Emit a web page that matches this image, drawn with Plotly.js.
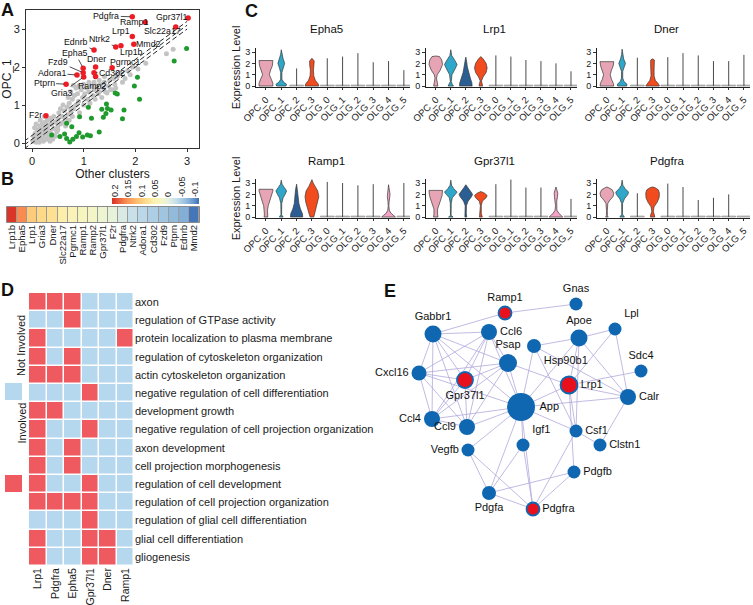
<!DOCTYPE html>
<html><head><meta charset="utf-8">
<script src="https://cdn.plot.ly/plotly-3.0.1.min.js"></script>
<style>html,body{margin:0;padding:0;background:#fff}#chart{width:753px;height:605px}</style>
</head><body><div id="chart"></div>
<script>
// ================= DATA =================
// Panel A : OPC_1 vs other clusters (average expression)
const aGrayX = [0.02,0.05,0.08,0.1,0.12,0.15,0.06,0.18,0.2,0.22,0.25,0.1,0.28,0.3,0.32,0.35,0.15,0.38,0.4,0.42,0.45,0.2,0.25,0.3,0.48,0.5,0.05,0.12,0.18,0.22,0.28,0.35,0.04,0.14,0.33,0.36,0.42,0.26,0.3,0.4,0.45,0.08,0.16,0.24,0.5,0.55,0.58,0.52,0.6,0.62,0.65,0.68,0.7,0.72,0.75,0.78,0.8,0.82,0.85,0.88,0.9,0.92,0.95,0.98,1.0,1.02,1.05,1.08,1.1,1.12,1.15,1.18,1.2,1.22,0.6,0.55,0.7,0.75,0.85,0.8,0.9,1.0,0.65,0.72,0.78,0.5,1.25,1.28,1.3,1.32,1.35,1.38,1.4,1.42,1.45,1.48,1.5,1.52,1.55,1.58,1.6,1.62,1.65,1.7,1.75,1.8,1.85,1.9,1.95,1.3,1.4,1.2,1.1,2.73,2.6,2.2,2.05];
const aGrayY = [0.05,0.1,0.02,0.15,0.08,0.2,0.25,0.12,0.3,0.18,0.35,0.35,0.25,0.4,0.15,0.3,0.45,0.5,0.22,0.38,0.55,0.5,0.55,0.6,0.3,0.45,0.4,0.28,0.38,0.05,0.1,0.05,0.15,0.02,0.48,0.65,0.7,0.42,0.28,0.1,0.18,0.5,0.6,0.7,0.62,0.5,0.7,0.8,0.55,0.85,0.65,0.95,0.75,1.05,0.85,1.15,0.9,1.25,1.0,1.3,1.1,0.8,1.4,1.2,1.0,1.3,1.45,1.15,1.35,1.05,1.5,1.25,1.4,1.15,1.0,0.9,1.2,1.35,1.45,1.52,1.5,1.55,0.45,0.6,0.7,0.35,1.5,1.3,1.35,1.55,1.2,1.45,1.6,1.35,1.32,1.5,1.65,1.4,1.4,1.7,1.55,1.45,1.75,1.85,1.6,1.7,1.9,1.8,2.0,1.65,1.75,1.6,1.6,2.47,2.35,2.1,1.95];
const aGreenX = [2.99,2.75,2.04,1.98,2.08,1.78,1.75,1.61,1.65,1.44,1.46,1.53,1.35,1.43,1.38,1.09,0.92,1.15,1.3,1.07,1.13,0.91,0.86,0.79,0.73,0.67,0.63,0.77,0.67,0.54,0.38,0.98];
const aGreenY = [2.49,2.16,1.73,1.5,1.15,0.87,0.64,1.32,1.29,1.03,0.91,0.87,0.89,0.78,0.68,0.94,0.69,0.65,0.29,0.21,0.19,0.27,0.17,0.1,0.03,0.12,0.24,0.43,0.52,0.17,0.21,0.16];
const aRedGenes = ['Pdgfra','Gpr37l1','Ramp1','Slc22a17','Lrp1','Mmd2','Ntrk2','Lrp1b','Ednrb','Pgrmc1','Dner','Epha5','Fzd9','Adora1','Cd302','Ramp2','Gria3','Ptprn','F2r'];
const aRedX = [1.94,3.02,2.19,2.78,1.94,1.97,1.62,1.72,1.2,1.55,1.23,0.99,0.99,0.87,1.2,1.23,1.0,0.66,0.27];
const aRedY = [3.32,3.29,3.18,3.05,2.8,2.6,2.53,2.56,2.45,1.98,2.0,1.97,1.85,1.79,1.85,1.75,1.74,1.55,0.72];
const aTicks = [0,1,2,3];
const aRefOffsets = [0, 0.1, 0.2];   // dashed diagonal guide lines y = x + c
const aRefX = [-0.15, 3.0];

// Panel B : correlation heat strip
const bGenes = ['Lrp1b','Epha5','Lrp1','Gria3','Dner','Slc22a17','Pgrmc1','Ramp1','Ramp2','Gpr37l1','F2r','Pdgfra','Ntrk2','Adora1','Cd302','Fzd9','Ptprn','Ednrb','Mmd2'];
const bValues = [0.21,0.16,0.105,0.09,0.08,0.06,0.045,0.035,0.025,0.015,0.005,-0.01,-0.025,-0.035,-0.045,-0.055,-0.065,-0.075,-0.11];
const bBarTicks = [0.2,0.15,0.1,0.05,0,-0.05,-0.1];
const bBarStops = [-0.115,-0.1,-0.05,0,0.05,0.1,0.15,0.2,0.211];

// Panel C : violin outlines, [expression level, half width];
// a single number = cells almost all at 0 with a whisker up to that value
const cClusters = ['OPC_0','OPC_1','OPC_2','OPC_3','OLG_0','OLG_1','OLG_2','OLG_3','OLG_4','OLG_5'];
const cGenes = ['Epha5','Lrp1','Dner','Ramp1','Gpr37l1','Pdgfra'];
const violinEpha5 = [
  [[0,0.45],[0.25,0.45],[0.6,0.35],[1.0,0.22],[1.4,0.3],[1.8,0.42],[2.25,0.45]],
  [[0,0.3],[0.15,0.35],[0.35,0.15],[0.6,0.04],[1.2,0.04],[1.6,0.12],[2.0,0.22],[2.4,0.12],[2.8,0.04],[3.2,0]],
  1.55,
  [[0,0.45],[0.2,0.4],[0.5,0.22],[0.9,0.12],[1.4,0.1],[1.9,0.15],[2.2,0.15],[2.45,0]],
  2.45, 2.6, 2.9, 2.1, 2.2, 1.4];
const violinLrp1 = [
  [[0,0.14],[0.3,0.1],[0.7,0.05],[1.0,0.1],[1.4,0.3],[1.9,0.45],[2.3,0.4],[2.6,0.25],[2.65,0]],
  [[0,0.18],[0.15,0.1],[0.4,0.03],[1.0,0.08],[1.5,0.28],[1.9,0.42],[2.3,0.25],[2.7,0.06],[3.2,0]],
  [[0,0.42],[0.3,0.4],[0.7,0.3],[1.2,0.18],[1.7,0.1],[2.2,0.05],[2.55,0]],
  [[0,0.12],[0.2,0.1],[0.45,0.04],[0.8,0.15],[1.2,0.35],[1.6,0.42],[2.0,0.35],[2.4,0.15],[2.6,0]],
  2.7, 2.6, 2.3, 2.2, 2.0, 1.3];
const violinDner = [
  [[0,0.45],[0.25,0.42],[0.6,0.3],[1.0,0.22],[1.4,0.3],[1.8,0.42],[2.15,0.45]],
  [[0,0.3],[0.15,0.32],[0.4,0.12],[0.7,0.04],[1.3,0.04],[1.7,0.14],[2.0,0.22],[2.4,0.1],[2.8,0.03],[3.25,0]],
  2.5,
  [[0,0.45],[0.2,0.38],[0.5,0.18],[0.9,0.1],[1.5,0.1],[2.0,0.13],[2.3,0.12],[2.4,0]],
  2.55, 2.9, 2.7, 2.2, 2.2, 2.75];
const violinRamp1 = [
  [[0,0.12],[0.25,0.1],[0.6,0.1],[1.0,0.15],[1.4,0.25],[1.9,0.38],[2.3,0.45],[2.45,0.45]],
  [[0,0.12],[0.08,0.1],[0.2,0.02],[1.2,0.03],[1.7,0.12],[2.0,0.25],[2.3,0.35],[2.6,0.2],[2.9,0.05],[3.25,0]],
  [[0,0.4],[0.3,0.38],[0.7,0.25],[1.2,0.15],[1.8,0.1],[2.4,0.07],[2.9,0]],
  [[0,0.12],[0.3,0.18],[0.8,0.3],[1.3,0.4],[1.8,0.45],[2.3,0.38],[2.7,0.2],[3.0,0.08],[3.3,0]],
  3.1, 3.0, 2.8, 2.9,
  [[0,0.45],[0.12,0.35],[0.35,0.15],[0.6,0.05],[1.0,0.02],[1.4,0.04],[1.8,0.08],[2.0,0.1],[2.3,0.06],[2.6,0.02],[2.85,0]],
  3.0];
const violinGpr37l1 = [
  [[0,0.15],[0.25,0.12],[0.7,0.12],[1.0,0.18],[1.4,0.3],[1.9,0.42],[2.3,0.45],[2.35,0.45]],
  [[0,0.15],[0.05,0.1],[0.15,0.02],[1.2,0.03],[1.7,0.1],[2.0,0.3],[2.2,0.42],[2.5,0.2],[2.8,0.05],[3.25,0]],
  [[0,0.06],[0.3,0.03],[1.0,0.04],[1.4,0.15],[1.8,0.38],[2.0,0.45],[2.3,0.3],[2.6,0.12],[2.85,0]],
  [[0,0.1],[0.15,0.08],[0.3,0.03],[1.0,0.03],[1.4,0.1],[1.7,0.35],[1.9,0.42],[2.1,0.25],[2.25,0]],
  2.9, 3.3, 2.6, 2.6,
  [[0,0.45],[0.12,0.35],[0.35,0.18],[0.6,0.06],[1.0,0.03],[1.4,0.05],[1.8,0.1],[2.1,0.12],[2.4,0.06],[2.65,0]],
  1.6];
const violinPdgfra = [
  [[0,0.08],[0.15,0.03],[0.6,0.03],[1.2,0.06],[1.5,0.2],[1.8,0.4],[2.1,0.45],[2.4,0.35],[2.6,0.1],[2.65,0]],
  [[0,0.15],[0.1,0.1],[0.25,0.02],[1.2,0.03],[1.6,0.15],[2.0,0.38],[2.2,0.42],[2.5,0.2],[2.8,0.05],[3.25,0]],
  2.1,
  [[0,0.15],[0.2,0.12],[0.5,0.05],[0.9,0.1],[1.3,0.3],[1.7,0.43],[2.1,0.45],[2.4,0.38],[2.6,0.15],[2.65,0]],
  2.95, 2.65, 1.5, 1.7, 2.0, 0];
const cProfiles = [violinEpha5, violinLrp1, violinDner, violinRamp1, violinGpr37l1, violinPdgfra];
const cYTicks = [0,1,2,3];

// Panel D : GO term membership (1 = involved)
const dGenes = ['Lrp1','Pdgfra','Epha5','Gpr37l1','Dner','Ramp1'];
const dTerms = ['axon','regulation of GTPase activity','protein localization to plasma membrane','regulation of cytoskeleton organization','actin cytoskeleton organization','negative regulation of cell differentiation','development growth','negative regulation of cell projection organization','axon development','cell projection morphogenesis','regulation of cell development','regulation of cell projection organization','regulation of glial cell differentiation','glial cell differentiation','gliogenesis'];
const dMatrix = [
  [1,1,1,0,0,0],
  [0,0,1,0,0,0],
  [1,0,0,0,0,1],
  [1,0,1,0,0,0],
  [1,1,1,0,0,0],
  [0,0,0,1,0,0],
  [1,1,0,0,0,0],
  [1,0,0,1,0,0],
  [1,0,1,0,0,0],
  [1,0,1,0,0,0],
  [1,0,0,1,0,0],
  [1,1,1,1,0,0],
  [0,0,0,1,0,0],
  [1,0,0,1,1,0],
  [1,0,0,1,1,0]];

// Panel E : interaction network (layout coordinates)
const eNodes = ['Ramp1','Gnas','Gabbr1','Ccl6','Apoe','Lpl','Hsp90b1','Psap','Sdc4','Cxcl16','Gpr37l1','Lrp1','Calr','App','Ccl4','Ccl9','Csf1','Igf1','Clstn1','Vegfb','Pdgfb','Pdgfa','Pdgfra'];
const eNodeX = [505,576,433,489,579,615,534,508,641,419,465,569,628,521,432,467,576,523,600,468,574,489,533];
const eNodeY = [313,304,334,332,338,329,346,363,371,373,380,385,397,407,419,427,431,445,445,450,472,493,509];
const eHighlighted = ['Ramp1','Gpr37l1','Lrp1','Pdgfra'];
const eEdges = [
  ['Ramp1','Gabbr1'],['Ramp1','Gnas'],['Gabbr1','Ccl6'],['Gabbr1','Cxcl16'],['Gabbr1','Gpr37l1'],['Gabbr1','Ccl4'],['Gabbr1','Ccl9'],['Gabbr1','Psap'],['Gabbr1','App'],
  ['Ccl6','Cxcl16'],['Ccl6','Gpr37l1'],['Ccl6','Ccl4'],['Ccl6','Ccl9'],['Ccl6','App'],['Ccl6','Psap'],
  ['Cxcl16','Gpr37l1'],['Cxcl16','Psap'],['Cxcl16','Ccl4'],['Cxcl16','Ccl9'],['Cxcl16','App'],
  ['Gpr37l1','Psap'],['Gpr37l1','Ccl4'],['Gpr37l1','Ccl9'],['Ccl4','Psap'],['Ccl4','Ccl9'],['Ccl4','App'],
  ['Ccl9','Psap'],['Ccl9','App'],['Psap','App'],['Psap','Lrp1'],
  ['Hsp90b1','Apoe'],['Hsp90b1','App'],['Hsp90b1','Csf1'],['Hsp90b1','Calr'],
  ['Apoe','Lpl'],['Apoe','Lrp1'],['Apoe','Calr'],['Apoe','App'],['Apoe','Csf1'],
  ['Lpl','Lrp1'],['Lpl','Calr'],['Lrp1','App'],['Lrp1','Calr'],['Lrp1','Sdc4'],['Lrp1','Csf1'],['Lrp1','Pdgfb'],
  ['Calr','App'],['Calr','Clstn1'],['App','Igf1'],['App','Vegfb'],['App','Csf1'],['App','Pdgfa'],['App','Pdgfra'],
  ['Csf1','Clstn1'],['Csf1','Pdgfra'],['Igf1','Pdgfa'],['Igf1','Pdgfra'],['Vegfb','Pdgfa'],['Vegfb','Pdgfra'],
  ['Pdgfb','Pdgfa'],['Pdgfb','Pdgfra'],['Pdgfa','Pdgfra']];

// ================= STYLE =================
const FONT = '"Liberation Sans", Arial, Helvetica, sans-serif';
const W = 753, H = 605;
const fx = p => p / W;
const fy = p => 1 - p / H;
const aLabelShift = {Pdgfra:[-26,-1],Gpr37l1:[-17,-1],Ramp1:[-11,0],Slc22a17:[-13,4],Lrp1:[-11,-6],Mmd2:[15,0],
  Ntrk2:[-16,-8],Lrp1b:[11,6],Ednrb:[-18,-8],Pgrmc1:[13,-6],Dner:[1,-8],Epha5:[-8,-15],Fzd9:[-25,-11],
  Adora1:[-25,-2],Cd302:[18,0],Ramp2:[-4,9],Gria3:[-22,16],Ptprn:[-22,-1],F2r:[-10,-1]};
const bScalePairs = [[-0.115,'#3a6cb4'],[-0.09,'#6d9ccd'],[-0.06,'#98c0de'],[-0.03,'#c2dcec'],[0,'#e4f1e0'],
  [0.03,'#f6f6c2'],[0.06,'#fdeeaa'],[0.09,'#fed988'],[0.12,'#fdbd6e'],[0.16,'#f98b51'],[0.211,'#d83428']];
const bZmin = -0.115, bZmax = 0.211;
const bScale = bScalePairs.map(p => [(p[0]-bZmin)/(bZmax-bZmin), p[1]]);
const cColors = ['#e6a4b4','#2ea7ca','#2b5f93','#f24b1e','#cfcfcf','#cfcfcf','#cfcfcf','#cfcfcf','#f3a3c6','#cfcfcf'];
const cColX = [[256,410],[426,577],[597,750]];
const cRowY = [[47.5,87.4],[178.5,218.4]];
const eNodeSize = [13,13,17,16,17,13,14,18,13,15,16,17,16,28,16,16,13,13,13,13,13,14,13];
const eLabelPos = ['top center','top center','top center','middle right','top center','top right','bottom right','top center','top center','middle left','bottom center','middle right','middle right','middle right','middle left','middle left','middle right','top right','middle right','middle left','middle right','bottom center','middle right'];

const traces = [];
const layout = {
  width: W, height: H, margin: {l:0, r:0, t:0, b:0}, showlegend: false,
  paper_bgcolor: '#ffffff', plot_bgcolor: 'rgba(0,0,0,0)',
  font: {family: FONT, color: '#1a1a1a', size: 11},
  annotations: [], shapes: []
};

// ---------- Panel A ----------
traces.push({type:'scatter', mode:'markers', x:aGrayX, y:aGrayY, marker:{color:'#c3c3c3', size:5, opacity:1}, xaxis:'x', yaxis:'y', hoverinfo:'skip'});
aRefOffsets.forEach(c => traces.push({type:'scatter', mode:'lines', x:aRefX, y:aRefX.map(v => v + c),
  line:{color:'#222', width:1, dash:'5px,3px'}, xaxis:'x', yaxis:'y', hoverinfo:'skip'}));
traces.push({type:'scatter', mode:'markers', x:aGreenX, y:aGreenY, marker:{color:'#1f9a2c', size:5, opacity:1}, xaxis:'x', yaxis:'y'});
traces.push({type:'scatter', mode:'markers', x:aRedX, y:aRedY, marker:{color:'#ee1d25', size:5.5, opacity:1}, xaxis:'x', yaxis:'y'});
const axBase = {showgrid:false, zeroline:false, showline:true, linecolor:'#333', linewidth:1, ticks:'outside', tickcolor:'#333', ticklen:3};
layout.xaxis = Object.assign({}, axBase, {domain:[fx(26),fx(199)], anchor:'y', range:[-0.116,3.23], mirror:true,
  tickmode:'array', tickvals:aTicks, tickfont:{size:11}, title:{text:'Other clusters', font:{size:12}, standoff:3}});
layout.yaxis = Object.assign({}, axBase, {domain:[fy(148),fy(10)], anchor:'x', range:[-0.13,3.5], mirror:true,
  tickmode:'array', tickvals:aTicks, tickfont:{size:11}, title:{text:'OPC_1', font:{size:12}, standoff:4}});
aRedGenes.forEach((g,i) => {
  const s = aLabelShift[g];
  layout.annotations.push({xref:'x', yref:'y', x:aRedX[i], y:aRedY[i], text:g, showarrow:true, arrowhead:0,
    arrowwidth:0.8, arrowcolor:'#222', ax:s[0], ay:s[1], standoff:2, font:{size:8.8, color:'#111'}});
});

// ---------- Panel B ----------
layout.shapes.push({type:'rect', xref:'paper', yref:'paper', x0:fx(6.5), x1:fx(199.5), y0:fy(222.5), y1:fy(206.5),
  fillcolor:'#9c9c9c', line:{color:'#8a8a8a', width:1}, layer:'below'});
traces.push({type:'heatmap', x:bGenes, y:['r'], z:[bValues], colorscale:bScale, zmin:bZmin, zmax:bZmax,
  showscale:false, xgap:1, xaxis:'x2', yaxis:'y2', hoverinfo:'skip'});
layout.xaxis2 = {domain:[fx(7),fx(199)], anchor:'y2', tickmode:'array', tickvals:bGenes, ticktext:bGenes,
  tickangle:-90, tickfont:{size:9.5}, ticks:'', showline:false, showgrid:false, zeroline:false};
layout.yaxis2 = {domain:[fy(222),fy(207)], anchor:'x2', visible:false};
traces.push({type:'heatmap', x:bBarStops, y:['c'], z:[bBarStops], colorscale:bScale, zmin:bZmin, zmax:bZmax,
  zsmooth:'best', showscale:false, xaxis:'x3', yaxis:'y3', hoverinfo:'skip'});
layout.xaxis3 = {domain:[fx(112),fx(199)], anchor:'y3', range:[0.211,-0.115], side:'top', tickmode:'array',
  tickvals:bBarTicks, ticktext:bBarTicks.map(String), tickangle:-90, tickfont:{size:9}, ticks:'',
  showline:false, showgrid:false, zeroline:false};
layout.yaxis3 = {domain:[fy(204),fy(198)], anchor:'x3', visible:false};

// ---------- Panel C ----------
function violinPoly(idx, prof) {
  const xs = [], ys = [];
  prof.forEach(p => { xs.push(idx + p[1]); ys.push(p[0]); });
  for (let k = prof.length - 1; k >= 0; k--) { xs.push(idx - prof[k][1]); ys.push(prof[k][0]); }
  xs.push(xs[0]); ys.push(ys[0]);
  return {xs, ys};
}
const cIdx = cClusters.map((_, i) => i);
cGenes.forEach((g, k) => {
  const ax = 4 + k, row = Math.floor(k / 3), col = k % 3;
  cProfiles[k].forEach((p, i) => {
    if (typeof p === 'number') {
      const b = violinPoly(i, [[0,0.45],[0.09,0.45]]);
      traces.push({type:'scatter', mode:'lines', x:b.xs, y:b.ys, fill:'toself', fillcolor:'#c9c9c9',
        line:{color:'#8d8d8d', width:0.6}, xaxis:'x'+ax, yaxis:'y'+ax, hoverinfo:'skip'});
      if (p > 0) traces.push({type:'scatter', mode:'lines', x:[i,i], y:[0,p], line:{color:'#4a4a4a', width:1},
        xaxis:'x'+ax, yaxis:'y'+ax, hoverinfo:'skip'});
    } else {
      const v = violinPoly(i, p);
      traces.push({type:'scatter', mode:'lines', x:v.xs, y:v.ys, fill:'toself', fillcolor:cColors[i],
        line:{color:'#383838', width:0.7}, xaxis:'x'+ax, yaxis:'y'+ax, hoverinfo:'skip'});
    }
  });
  layout['xaxis'+ax] = Object.assign({}, axBase, {domain:[fx(cColX[col][0]), fx(cColX[col][1])], anchor:'y'+ax,
    range:[-0.65,9.4], tickmode:'array', tickvals:cIdx, ticktext:cClusters, tickangle:-45, tickfont:{size:9.5},
    ticklen:2, linecolor:'#222'});
  layout['yaxis'+ax] = Object.assign({}, axBase, {domain:[fy(cRowY[row][1]), fy(cRowY[row][0])], anchor:'x'+ax,
    range:[-0.12,3.4], tickmode:'array', tickvals:cYTicks, tickfont:{size:9}, linecolor:'#222'});
  if (col === 0) layout['yaxis'+ax].title = {text:'Expression Level', font:{size:11}, standoff:2};
  const cx = (cColX[col][0] + cColX[col][1]) / 2 - 7;
  layout.annotations.push({xref:'paper', yref:'paper', x:fx(cx), y:fy(row === 0 ? 29 : 161), text:g,
    showarrow:false, font:{size:11.5, color:'#111'}, xanchor:'center', yanchor:'middle'});
});

// ---------- Panel D ----------
traces.push({type:'heatmap', x:dGenes, y:dTerms, z:dMatrix,
  colorscale:[[0,'#b5d8ee'],[0.5,'#b5d8ee'],[0.5,'#ee5a5f'],[1,'#ee5a5f']], zmin:0, zmax:1,
  xgap:1.5, ygap:1.5, showscale:false, xaxis:'x10', yaxis:'y10', hoverinfo:'skip'});
layout.xaxis10 = {domain:[fx(29),fx(134)], anchor:'y10', tickmode:'array', tickvals:dGenes, ticktext:dGenes,
  tickangle:-90, tickfont:{size:10.5}, ticks:'', ticklabelstandoff:-1, showgrid:false, zeroline:false, showline:false};
layout.yaxis10 = {domain:[fy(566),fy(293)], anchor:'x10', autorange:'reversed', side:'right', tickmode:'array',
  tickvals:dTerms, ticktext:dTerms, tickfont:{size:11}, ticks:'', showgrid:false, zeroline:false, showline:false};
layout.shapes.push({type:'rect', xref:'paper', yref:'paper', x0:fx(5), x1:fx(22), y0:fy(400), y1:fy(383), fillcolor:'#b5d8ee', line:{width:0}});
layout.shapes.push({type:'rect', xref:'paper', yref:'paper', x0:fx(5), x1:fx(22), y0:fy(492), y1:fy(475), fillcolor:'#ee5a5f', line:{width:0}});
layout.annotations.push({xref:'paper', yref:'paper', x:fx(13), y:fy(346), text:'Not Involved', textangle:-90, showarrow:false, font:{size:11}});
layout.annotations.push({xref:'paper', yref:'paper', x:fx(13), y:fy(446), text:'Involved', textangle:-90, showarrow:false, font:{size:11}});

// ---------- Panel E ----------
const ex = [], ey = [];
eEdges.forEach(([a, b]) => {
  const i = eNodes.indexOf(a), j = eNodes.indexOf(b);
  ex.push(eNodeX[i], eNodeX[j], null); ey.push(eNodeY[i], eNodeY[j], null);
});
traces.push({type:'scatter', mode:'lines', x:ex, y:ey, line:{color:'#b3a8dc', width:0.8}, xaxis:'x11', yaxis:'y11', hoverinfo:'skip'});
traces.push({type:'scatter', mode:'markers+text', x:eNodeX, y:eNodeY, text:eNodes, textposition:eLabelPos,
  textfont:{size:11, color:'#111'}, xaxis:'x11', yaxis:'y11', hoverinfo:'skip', cliponaxis:false,
  marker:{size:eNodeSize, opacity:1, color:eNodes.map(n => eHighlighted.includes(n) ? '#e8101d' : '#0f67b1'),
    line:{color:'#0f67b1', width:eNodes.map(n => eHighlighted.includes(n) ? 1.8 : 0)}}});
layout.xaxis11 = {domain:[fx(385),fx(753)], anchor:'y11', range:[385,753], visible:false};
layout.yaxis11 = {domain:[fy(605),fy(285)], anchor:'x11', range:[605,285], visible:false};

// ---------- panel letters ----------
[['A',8,10],['B',8,179],['C',252,11],['D',8,290],['E',390,291]].forEach(([t,x,y]) =>
  layout.annotations.push({xref:'paper', yref:'paper', x:fx(x), y:fy(y), text:'<b>'+t+'</b>', showarrow:false,
    font:{size:18, color:'#111'}, xanchor:'center', yanchor:'middle'}));

Plotly.newPlot('chart', traces, layout, {displayModeBar:false, staticPlot:true});
</script>
</body></html>
